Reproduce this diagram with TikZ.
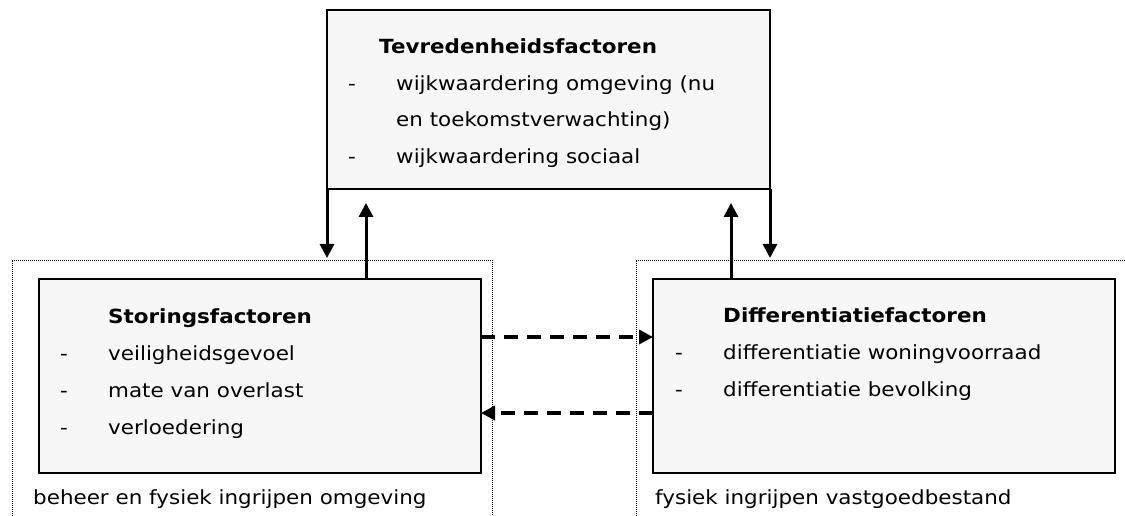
\documentclass[tikz,border=0pt]{standalone}
\usepackage{fontspec}
\setmainfont[FakeStretch=1.1]{DejaVu Sans}
\usetikzlibrary{arrows.meta}
\definecolor{boxfill}{HTML}{F7F7F7}
\tikzset{
  x=1pt, y=1pt,
  factorbox/.style={draw=black, line width=2pt, fill=boxfill, inner sep=0pt, outer sep=0pt, anchor=north west},
  frame/.style={line width=1pt, dash pattern=on 1pt off 1pt},
  txt/.style={anchor=base west, inner sep=0pt, font=\fontsize{19.5}{23}\selectfont},
  head/.style={txt, font=\fontsize{19.5}{23}\selectfont\bfseries},
  arr/.style={line width=3pt, -{Triangle[width=14pt,length=14pt]}},
  darr/.style={line width=3.5pt, dash pattern=on 14pt off 9pt, -{Triangle[width=14pt,length=14pt]}},
}
\begin{document}
\begin{tikzpicture}
\useasboundingbox (0,0) rectangle (1125,515);
\clip (0,0) rectangle (1125,515);
\fill[white] (0,0) rectangle (1125,515);

% dotted frames around the lower boxes
\draw[frame] (12,-5) -- (12,255) -- (492,255) -- (492,-5);
\draw[frame] (636,-5) -- (636,255) -- (1135,255);

% the three boxes
\node[factorbox, minimum width=443pt, minimum height=179pt] (T) at (327,505) {};
\node[factorbox, minimum width=442pt, minimum height=194pt] (S) at (39,236) {};
\node[factorbox, minimum width=462pt, minimum height=194pt] (D) at (653,236) {};

% texts of the top box
\node[head] (t0) at (379,461) {Tevredenheidsfactoren};
\node[txt] (t1d) at (348,424) {-};
\node[txt] (t1) at (396,424) {wijkwaardering omgeving (nu};
\node[txt] (t2) at (396,388) {en toekomstverwachting)};
\node[txt] (t3d) at (348,351) {-};
\node[txt] (t3) at (396,351) {wijkwaardering sociaal};

% texts of the left box
\node[head] (s0) at (108,192) {Storingsfactoren};
\node[txt] (s1d) at (60,155) {-};
\node[txt] (s1) at (108,155) {veiligheidsgevoel};
\node[txt] (s2d) at (60,118) {-};
\node[txt] (s2) at (108,118) {mate van overlast};
\node[txt] (s3d) at (60,81) {-};
\node[txt] (s3) at (108,81) {verloedering};

% texts of the right box
\node[head] (d0) at (723,193) {Differentiatiefactoren};
\node[txt] (d1d) at (675,156) {-};
\node[txt] (d1) at (723,156) {differentiatie woningvoorraad};
\node[txt] (d2d) at (675,119) {-};
\node[txt] (d2) at (723,119) {differentiatie bevolking};

% captions under the boxes
\node[txt] (capS) at (33,11) {beheer en fysiek ingrijpen omgeving};
\node[txt] (capD) at (655,11) {fysiek ingrijpen vastgoedbestand};

% vertical connectors
\coordinate (downL) at (327,257);
\coordinate (downR) at (770,257);
\draw[arr] (T.south west) -- (downL);
\draw[arr] (T.south east) -- (downR);
\draw[arr, shorten >=14pt] ([xshift=327pt]S.north west) -- ([xshift=327pt]S.north west |- T.south);
\draw[arr, shorten >=14pt] ([xshift=78pt]D.north west) -- ([xshift=78pt]D.north west |- T.south);

% horizontal dashed connectors
\draw[darr] ([yshift=-58pt]S.north east) -- ([yshift=-58pt]S.north east -| D.west);
\draw[darr] ([yshift=-134pt]D.north west) -- ([yshift=-134pt]D.north west -| S.east);
\end{tikzpicture}
\end{document}
